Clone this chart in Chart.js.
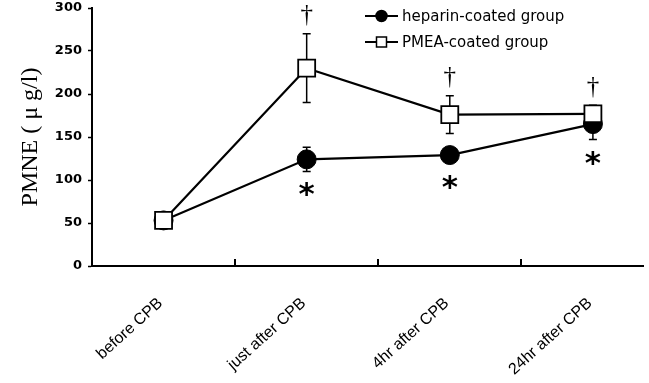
<!DOCTYPE html>
<html>
<head>
<meta charset="utf-8">
<script src="https://cdn.jsdelivr.net/npm/chart.js@4/dist/chart.umd.min.js"></script>
<style>
  html, body { margin: 0; padding: 0; background: #fff; }
</style>
</head>
<body>
<canvas id="myChart" width="649" height="383"></canvas>
<script>
// data
var categories = ["before CPB", "just after CPB", "4hr after CPB", "24hr after CPB"];
var heparinMean = [53, 124, 129, 165];
var heparinSD = [5, 14, 8, 18];
var pmeaMean = [53, 230, 176, 177];
var pmeaSD = [5, 40, 22, 10];
var heparinMarks = ["", "*", "*", "*"];
var pmeaMarks = ["", "†", "†", "†"];
var yTicks = [0, 50, 100, 150, 200, 250, 300];

function toPoints(arr) {
  return arr.map(function (v, i) { return { x: i, y: v }; });
}

/*-------------------------
error bars, significance marks
--------------------------*/
var errorBars = {
  id: "errorBars",
  beforeDatasetsDraw: function (chart) {
    var ctx = chart.ctx;
    var xs = chart.scales.x, ys = chart.scales.y;
    ctx.save();
    ctx.strokeStyle = "#000";
    ctx.lineWidth = 1.5;
    chart.data.datasets.forEach(function (ds) {
      ds.data.forEach(function (p, i) {
        var x = xs.getPixelForValue(p.x);
        var top = ys.getPixelForValue(p.y + ds.sd[i]);
        var bot = ys.getPixelForValue(p.y - ds.sd[i]);
        ctx.beginPath();
        ctx.moveTo(x, top); ctx.lineTo(x, bot);
        ctx.moveTo(x - 4, top); ctx.lineTo(x + 4, top);
        ctx.moveTo(x - 4, bot); ctx.lineTo(x + 4, bot);
        ctx.stroke();
      });
    });
    ctx.restore();
  },
  afterDatasetsDraw: function (chart) {
    var ctx = chart.ctx;
    var xs = chart.scales.x, ys = chart.scales.y;
    ctx.save();
    ctx.fillStyle = "#000";
    ctx.textAlign = "center";
    ctx.textBaseline = "middle";
    chart.data.datasets.forEach(function (ds) {
      ds.data.forEach(function (p, i) {
        var m = ds.marks[i];
        if (!m) return;
        var x = xs.getPixelForValue(p.x);
        if (ds.markSide === "above") {
          ctx.font = "25px 'Liberation Serif'";
          ctx.fillText(m, x, ys.getPixelForValue(p.y + ds.sd[i]) - 18);
        } else {
          ctx.font = "bold 31px 'DejaVu Sans'";
          var low = Math.max(ys.getPixelForValue(p.y - ds.sd[i]), ys.getPixelForValue(p.y) + 9);
          ctx.fillText(m, x, low + 25);
        }
      });
    });
    // inward tick marks between categories
    ctx.strokeStyle = "#000";
    ctx.lineWidth = 2;
    for (var i = 0; i < categories.length - 1; i++) {
      var tx = Math.round(xs.getPixelForValue(i + 0.5));
      ctx.beginPath();
      ctx.moveTo(tx, chart.chartArea.bottom);
      ctx.lineTo(tx, chart.chartArea.bottom - 7);
      ctx.stroke();
    }
    ctx.restore();
  }
};

/*-------------------------
legend in the plot area
--------------------------*/
var lineLegend = {
  id: "lineLegend",
  afterDraw: function (chart) {
    var ctx = chart.ctx;
    var x0 = 365, x1 = 398, y = 16;
    ctx.save();
    chart.data.datasets.forEach(function (ds) {
      ctx.strokeStyle = "#000";
      ctx.lineWidth = 2;
      ctx.beginPath();
      ctx.moveTo(x0, y); ctx.lineTo(x1, y);
      ctx.stroke();
      var cx = (x0 + x1) / 2;
      ctx.beginPath();
      if (ds.pointStyle === "rect") {
        ctx.rect(cx - 5, y - 5, 10, 10);
      } else {
        ctx.arc(cx, y, 5.5, 0, Math.PI * 2);
      }
      ctx.fillStyle = ds.pointBackgroundColor;
      ctx.fill();
      ctx.lineWidth = 1.5;
      ctx.stroke();
      ctx.fillStyle = "#000";
      ctx.font = "15px 'DejaVu Sans'";
      ctx.textBaseline = "middle";
      ctx.fillText(ds.label, x1 + 4, y + 1);
      y += 26;
    });
    ctx.restore();
  }
};

var ctx = document.getElementById("myChart").getContext("2d");
var myChart = new Chart(ctx, {
  type: "line",
  data: {
    datasets: [{
      label: "heparin-coated group",
      data: toPoints(heparinMean),
      sd: heparinSD,
      marks: heparinMarks,
      markSide: "below",
      borderColor: "#000",
      borderWidth: 2.2,
      pointStyle: "circle",
      pointRadius: 9.5,
      pointBackgroundColor: "#000",
      pointBorderColor: "#000",
      pointBorderWidth: 1,
      order: 1
    }, {
      label: "PMEA-coated group",
      data: toPoints(pmeaMean),
      sd: pmeaSD,
      marks: pmeaMarks,
      markSide: "above",
      borderColor: "#000",
      borderWidth: 2.2,
      pointStyle: "rect",
      pointRadius: 12,
      pointBackgroundColor: "#fff",
      pointBorderColor: "#000",
      pointBorderWidth: 1.8,
      order: 0
    }]
  },
  options: {
    responsive: false,
    animation: false,
    layout: { autoPadding: false, padding: { top: 8, right: 6, left: 0, bottom: 0 } },
    plugins: {
      legend: { display: false },
      tooltip: { enabled: false }
    },
    scales: {
      x: {
        type: "linear",
        min: -0.5,
        max: 3.35,
        afterBuildTicks: function (scale) {
          scale.ticks = categories.map(function (c, i) { return { value: i }; });
        },
        afterFit: function (scale) {
          scale.height = 117;
          scale.paddingLeft = 0;
          scale.paddingRight = 0;
        },
        grid: { display: false, drawTicks: false },
        border: { color: "#000", width: 2 },
        ticks: {
          autoSkip: false,
          minRotation: 42,
          maxRotation: 42,
          padding: 28,
          labelOffset: -3,
          color: "#000",
          font: { family: "'Liberation Sans'", size: 16 },
          callback: function (v) { return categories[v]; }
        }
      },
      y: {
        min: 0,
        max: 300,
        afterBuildTicks: function (scale) {
          scale.ticks = yTicks.map(function (v) { return { value: v }; });
        },
        afterFit: function (scale) {
          scale.width = 92;
          scale.paddingTop = 0;
          scale.paddingBottom = 0;
        },
        grid: { drawOnChartArea: false, tickLength: 4, color: "#000", tickWidth: 1.5 },
        border: { color: "#000", width: 2 },
        ticks: {
          padding: 6,
          color: "#000",
          font: { family: "'DejaVu Sans'", size: 13, weight: "bold" }
        },
        title: {
          display: true,
          text: "PMNE ( μ g/l)",
          color: "#000",
          font: { family: "'Liberation Serif'", size: 24 },
          padding: { top: 16, bottom: 0 }
        }
      }
    }
  },
  plugins: [errorBars, lineLegend]
});
</script>
</body>
</html>
